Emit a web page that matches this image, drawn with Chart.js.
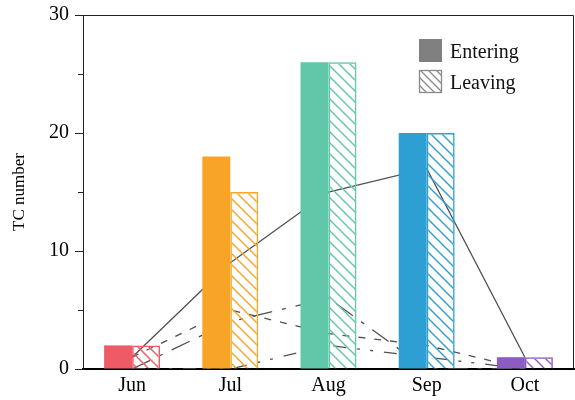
<!DOCTYPE html>
<html>
<head>
<meta charset="utf-8">
<script src="https://cdn.jsdelivr.net/npm/chart.js@4/dist/chart.umd.min.js"></script>
<style>
  html, body { margin: 0; padding: 0; background: #fff; }
  #c { display: block; }
</style>
</head>
<body>
<canvas id="c" width="575" height="400"></canvas>
<script>
// Monthly TC counts: entering vs leaving the region
const months = ['Jun', 'Jul', 'Aug', 'Sep', 'Oct'];
const entering = [2, 18, 26, 20, 1];
const leaving = [2, 15, 26, 20, 1];

// Overlaid monthly track series (one per line style)
const lineSolid = [1, 9, 15, 17, 1];
const lineDash = [1, 5, 3, 2, 0];
const lineLongDashDot = [0, 4, 6, 0, 0];
const lineDashDotDot = [0, 0, 2, 1, 0];

const yTicks = [0, 10, 20, 30];
const yMinorTicks = [5, 15, 25];

const monthColors = ['#EE5B66', '#F8A427', '#60C8A9', '#2E9FD3', '#8C5CC4'];
const serifFont = '"Liberation Serif", "Times New Roman", serif';

const canvas = document.getElementById('c');
const ctx = canvas.getContext('2d');

// diagonal "\" hatch pattern
function hatch(color, size, width) {
  const t = document.createElement('canvas');
  t.width = size; t.height = size;
  const g = t.getContext('2d');
  g.strokeStyle = color;
  g.lineWidth = width;
  g.beginPath();
  g.moveTo(-2, -2); g.lineTo(size + 2, size + 2);
  g.moveTo(-2, size - 2); g.lineTo(2, size + 2);
  g.moveTo(size - 2, -2); g.lineTo(size + 2, 2);
  g.stroke();
  return ctx.createPattern(t, 'repeat');
}

const hatchFills = monthColors.map(c => hatch(c, 11, 1.4));

function lineSet(label, data, dash) {
  return {
    type: 'line',
    label,
    data,
    borderColor: '#505050',
    borderWidth: 1.3,
    borderDash: dash,
    pointRadius: 0,
    pointHoverRadius: 0,
    fill: false,
    tension: 0,
    order: 2
  };
}

// frame on top/right plus minor y ticks
const framePlugin = {
  id: 'frame',
  afterDraw(chart) {
    const { ctx, chartArea: a } = chart;
    const ys = chart.scales.y;
    ctx.save();
    ctx.strokeStyle = '#222';
    ctx.lineWidth = 1;
    ctx.beginPath();
    ctx.moveTo(a.left, a.top + 0.5);
    ctx.lineTo(a.right - 0.5, a.top + 0.5);
    ctx.lineTo(a.right - 0.5, a.bottom);
    ctx.stroke();
    ctx.beginPath();
    yMinorTicks.forEach(v => {
      const y = Math.round(ys.getPixelForValue(v)) + 0.5;
      ctx.moveTo(a.left - 5, y);
      ctx.lineTo(a.left, y);
    });
    ctx.stroke();
    ctx.restore();
  }
};

// legend box in the upper right of the plot
const legendPlugin = {
  id: 'boxLegend',
  afterDraw(chart) {
    const { ctx, chartArea: a } = chart;
    const x0 = a.left + 336;
    const y0 = a.top + 24;
    const box = 23;
    ctx.save();
    ctx.fillStyle = '#808080';
    ctx.fillRect(x0, y0, box, box);

    const y1 = y0 + 31;
    ctx.save();
    ctx.beginPath();
    ctx.rect(x0, y1, box, box);
    ctx.clip();
    ctx.strokeStyle = '#8a8a8a';
    ctx.lineWidth = 1.3;
    ctx.beginPath();
    for (let k = -box; k <= box; k += 8) {
      ctx.moveTo(x0 + k, y1);
      ctx.lineTo(x0 + k + box, y1 + box);
    }
    ctx.stroke();
    ctx.restore();
    ctx.strokeStyle = '#8a8a8a';
    ctx.lineWidth = 1.3;
    ctx.strokeRect(x0 + 0.5, y1 + 0.5, box - 1, box - 1);

    ctx.fillStyle = '#111';
    ctx.font = '20px ' + serifFont;
    ctx.textBaseline = 'alphabetic';
    ctx.textAlign = 'left';
    ctx.fillText('Entering', x0 + 31, y0 + 19);
    ctx.fillText('Leaving', x0 + 31, y1 + 18.5);
    ctx.restore();
  }
};

new Chart(ctx, {
  data: {
    labels: months,
    datasets: [
      {
        type: 'bar',
        label: 'Entering',
        data: entering,
        backgroundColor: monthColors,
        borderColor: monthColors,
        borderWidth: 0,
        categoryPercentage: 0.57,
        barPercentage: 1.0,
        order: 1
      },
      {
        type: 'bar',
        label: 'Leaving',
        data: leaving,
        backgroundColor: hatchFills,
        borderColor: monthColors,
        borderWidth: 1.5,
        categoryPercentage: 0.57,
        barPercentage: 1.0,
        order: 1
      },
      lineSet('Series 1', lineSolid, []),
      lineSet('Series 2', lineDash, [7, 9]),
      lineSet('Series 3', lineLongDashDot, [20, 10, 4, 10]),
      lineSet('Series 4', lineDashDotDot, [13, 11, 3, 10, 3, 11])
    ]
  },
  options: {
    responsive: false,
    animation: false,
    events: [],
    layout: { padding: { top: 15, right: 1, left: 0, bottom: 0 } },
    plugins: {
      legend: { display: false },
      tooltip: { enabled: false }
    },
    scales: {
      x: {
        type: 'category',
        offset: true,
        grid: { display: false, drawTicks: false },
        border: { display: true, color: '#000', width: 2 },
        ticks: {
          color: '#000',
          font: { family: serifFont, size: 20 },
          padding: 5,
          maxRotation: 0
        },
        afterFit(scale) { scale.height = 31; scale.paddingLeft = 0; scale.paddingRight = 0; }
      },
      y: {
        min: 0,
        max: 30,
        afterBuildTicks(scale) { scale.ticks = yTicks.map(v => ({ value: v })); },
        grid: { drawOnChartArea: false, drawTicks: true, tickLength: 8, color: '#222', tickWidth: 1 },
        border: { display: true, color: '#222', width: 1 },
        ticks: {
          color: '#000',
          font: { family: serifFont, size: 20 },
          padding: 6
        },
        title: {
          display: true,
          text: 'TC number',
          color: '#000',
          font: { family: serifFont, size: 17 },
          padding: { top: 9, bottom: 0 }
        },
        afterFit(scale) { scale.width = 83; scale.paddingTop = 0; scale.paddingBottom = 0; }
      }
    }
  },
  plugins: [framePlugin, legendPlugin]
});
</script>
</body>
</html>
